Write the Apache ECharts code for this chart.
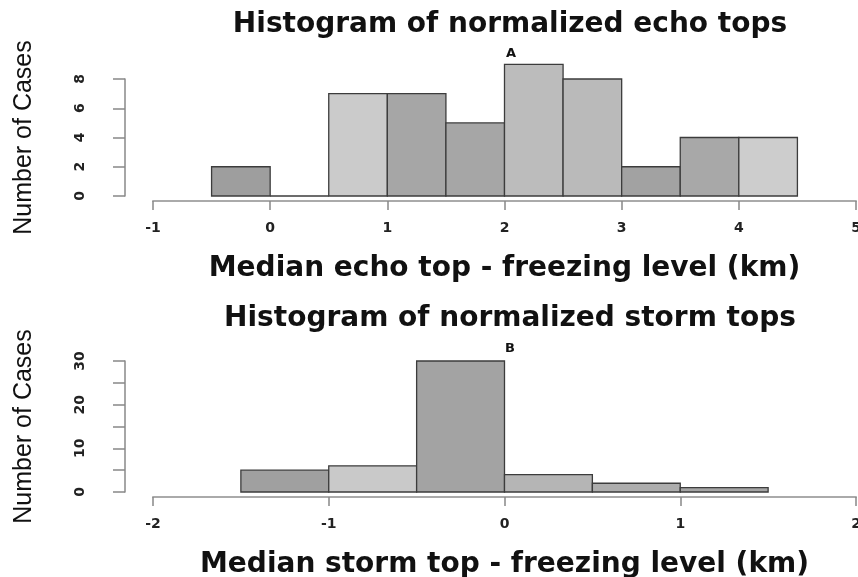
<!DOCTYPE html>
<html>
<head>
<meta charset="utf-8">
<script src="https://cdn.jsdelivr.net/npm/echarts@6/dist/echarts.min.js"></script>
<style>
  html, body { margin: 0; padding: 0; background: #fff; }
  #chart { width: 858px; height: 577px; }
</style>
</head>
<body>
<div id="chart"></div>
<script>
// panel A: echo tops, bins of 0.5 km
const echoBinStarts = [-0.5, 0, 0.5, 1, 1.5, 2, 2.5, 3, 3.5, 4];
const echoCounts = [2, 0, 7, 7, 5, 9, 8, 2, 4, 4];
const echoTicks = [-1, 0, 1, 2, 3, 4, 5];

// panel B: storm tops
const stormBinStarts = [-1.5, -1, -0.5, 0, 0.5, 1];
const stormCounts = [5, 6, 30, 4, 2, 1];
const stormTicks = [-2, -1, 0, 1, 2];

const binWidth = 0.5;

// fills differ a bit from bar to bar in the scan
const echoFills = ['#9e9e9e', '#c8c8c8', '#cbcbcb', '#a6a6a6', '#a6a6a6', '#bcbcbc', '#bababa', '#a2a2a2', '#a8a8a8', '#cdcdcd'];
const stormFills = ['#a0a0a0', '#c9c9c9', '#a3a3a3', '#b5b5b5', '#adadad', '#a5a5a5'];

const chart = echarts.init(document.getElementById('chart'));

function histData(starts, counts) {
    return starts.map((s, i) => [s, s + binWidth, counts[i]]);
}

function histSeries(idx, starts, counts, fills) {
    return {
        type: 'custom',
        xAxisIndex: idx,
        yAxisIndex: idx,
        clip: false,
        data: histData(starts, counts),
        encode: {x: [0, 1], y: 2},
        renderItem: (params, api) => {
            const base = api.coord([api.value(0), 0]);
            const top = api.coord([api.value(1), api.value(2)]);
            return {
                type: 'rect',
                shape: {x: base[0], y: top[1], width: top[0] - base[0], height: base[1] - top[1]},
                style: {fill: fills[params.dataIndex], stroke: '#3c3c3c', lineWidth: 1.3}
            };
        }
    };
}

const tickFont = {color: '#222', fontFamily: 'DejaVu Sans', fontWeight: 'bold', fontSize: 14};
const nameFont = {color: '#111', fontFamily: 'DejaVu Sans', fontWeight: 'bold', fontSize: 28};
const yNameFont = {color: '#111', fontFamily: 'Liberation Sans', fontSize: 25};
const letterFont = {color: '#111', fontFamily: 'DejaVu Sans', fontWeight: 'bold', fontSize: 13};

function xAxisFor(idx, ticks, name) {
    return {
        type: 'value',
        gridIndex: idx,
        min: ticks[0],
        max: ticks[ticks.length - 1],
        interval: 1,
        offset: 5,
        name: name,
        nameLocation: 'middle',
        nameGap: 54,
        nameTextStyle: nameFont,
        axisLine: {onZero: false, lineStyle: {color: '#aaa', width: 2}},
        axisTick: {length: 9, lineStyle: {color: '#888', width: 1.5}},
        axisLabel: Object.assign({margin: 20}, tickFont),
        splitLine: {show: false}
    };
}

function yAxisFor(idx, max, interval, labelStep) {
    return {
        type: 'value',
        gridIndex: idx,
        min: 0,
        max: max,
        interval: interval,
        offset: 28,
        name: 'Number of Cases',
        nameLocation: 'middle',
        nameGap: 88,
        nameTextStyle: yNameFont,
        axisLine: {show: true, onZero: false, lineStyle: {color: '#888', width: 1.5}},
        axisTick: {show: true, length: 12, lineStyle: {color: '#888', width: 1.5}},
        axisLabel: Object.assign({
            rotate: 90,
            margin: 38,
            formatter: v => (v % labelStep === 0 ? String(v) : '')
        }, tickFont),
        splitLine: {show: false}
    };
}

chart.setOption({
    backgroundColor: '#fff',
    animation: false,
    title: [
        {text: 'Histogram of normalized echo tops', left: 505, top: 6, textAlign: 'center', textStyle: nameFont},
        {text: 'A', left: 506, top: 42, textAlign: 'center', textStyle: letterFont},
        {text: 'Histogram of normalized storm tops', left: 505, top: 300, textAlign: 'center', textStyle: nameFont},
        {text: 'B', left: 505, top: 337, textAlign: 'center', textStyle: letterFont}
    ],
    grid: [
        {left: 153, right: 2, top: 79, height: 117, outerBoundsMode: 'none'},
        {left: 153, right: 2, top: 361, height: 131, outerBoundsMode: 'none'}
    ],
    xAxis: [
        xAxisFor(0, echoTicks, 'Median echo top - freezing level (km)'),
        xAxisFor(1, stormTicks, 'Median storm top - freezing level (km)')
    ],
    yAxis: [
        yAxisFor(0, 8, 2, 2),
        yAxisFor(1, 30, 5, 10)
    ],
    series: [
        histSeries(0, echoBinStarts, echoCounts, echoFills),
        histSeries(1, stormBinStarts, stormCounts, stormFills)
    ]
});
</script>
</body>
</html>
